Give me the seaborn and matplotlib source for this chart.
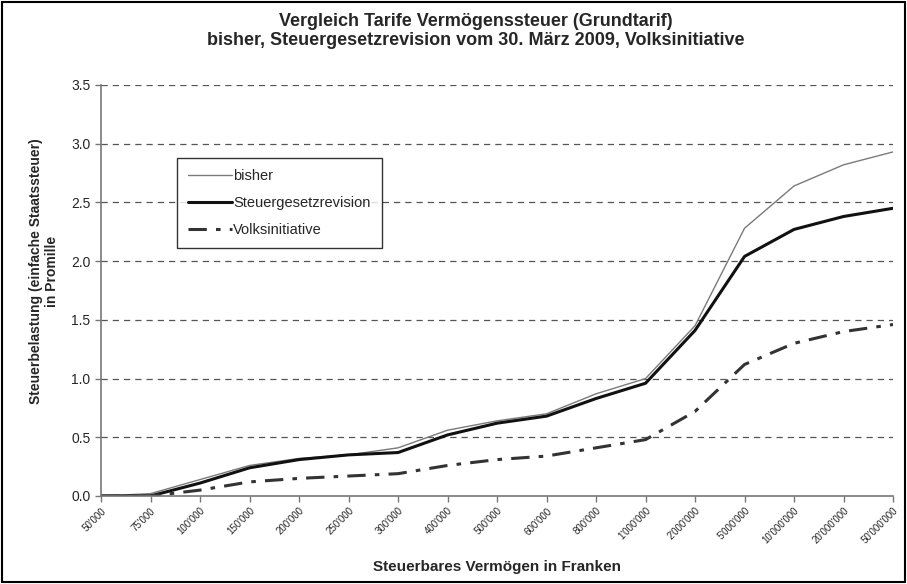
import numpy as np
import pandas as pd
import matplotlib
matplotlib.use("Agg")
import matplotlib.pyplot as plt
import seaborn as sns
from matplotlib.patches import Rectangle

# Daten (Promille)
vermoegen = ["50'000", "75'000", "100'000", "150'000", "200'000", "250'000",
             "300'000", "400'000", "500'000", "600'000", "800'000", "1'000'000",
             "2'000'000", "5'000'000", "10'000'000", "20'000'000", "50'000'000"]
bisher = [0.0, 0.02, 0.14, 0.26, 0.32, 0.35, 0.41, 0.56, 0.64, 0.70,
          0.87, 1.00, 1.45, 2.28, 2.64, 2.82, 2.93]
revision = [0.0, 0.0, 0.11, 0.24, 0.31, 0.35, 0.37, 0.52, 0.62, 0.68,
            0.83, 0.96, 1.41, 2.04, 2.27, 2.38, 2.45]
initiative = [0.0, 0.0, 0.05, 0.12, 0.15, 0.17, 0.19, 0.26, 0.31, 0.34,
              0.41, 0.48, 0.72, 1.12, 1.30, 1.40, 1.46]

sns.set_theme(style="white")
plt.rcParams['font.family'] = ['Liberation Sans', 'DejaVu Sans']

df = pd.DataFrame({"pos": np.arange(len(vermoegen)), "bisher": bisher,
                   "rev": revision, "ini": initiative})

fig = plt.figure(figsize=(9.07, 5.84), dpi=100)
ax = fig.add_axes([0.1114, 0.1507, 0.8732, 0.7038])

sns.lineplot(data=df, x="pos", y="bisher", ax=ax, color="#7a7a7a", lw=1.0,
             label="bisher")
sns.lineplot(data=df, x="pos", y="rev", ax=ax, color="#111111", lw=2.2,
             label="Steuergesetzrevision")
sns.lineplot(data=df, x="pos", y="ini", ax=ax, color="#333333", lw=2.2,
             label="Volksinitiative", dashes=False)
ax.lines[2].set_dashes((6, 3, 1.5, 3))

ax.set_xlim(0, len(vermoegen) - 1)
ax.set_ylim(0, 3.5)
ax.set_yticks(np.arange(0, 3.51, 0.5))
ax.set_yticklabels([f"{v:.1f}" for v in np.arange(0, 3.51, 0.5)], fontsize=10)
ax.set_xticks(df["pos"])
ax.set_xticklabels(vermoegen, rotation=45, ha="right", rotation_mode="anchor",
                   fontsize=7)
ax.tick_params(axis="x", length=4, width=1, color="#777777", direction="out",
               bottom=True, pad=3)
ax.tick_params(axis="y", length=4, width=1, color="#777777", direction="out",
               left=True)

for y in np.arange(0.5, 3.51, 0.5):
    ax.axhline(y, color="#555555", lw=0.9, ls=(0, (5, 4)), zorder=0)

for side in ["top", "right"]:
    ax.spines[side].set_visible(False)
for side in ["left", "bottom"]:
    ax.spines[side].set_color("#777777")
    ax.spines[side].set_linewidth(1.2)

ax.set_xlabel("Steuerbares Vermögen in Franken", fontsize=11, weight="bold",
              labelpad=10)
ax.set_ylabel("Steuerbelastung (einfache Staatssteuer)\nin Promille",
              fontsize=10, weight="bold", labelpad=9)
ax.yaxis.label.set_y(0.547)

fig.text(0.525, 0.977, "Vergleich Tarife Vermögenssteuer (Grundtarif)\n"
         "bisher, Steuergesetzrevision vom 30. März 2009, Volksinitiative",
         ha="center", va="top", fontsize=13, weight="bold", linespacing=1.15)

leg = ax.legend(loc="upper left", bbox_to_anchor=(0.087, 0.84), fontsize=10.5,
                frameon=True, fancybox=False, edgecolor="black",
                handlelength=3, handletextpad=0.1, labelspacing=0.9,
                borderpad=0.75)
leg.get_frame().set_linewidth(1.0)

fig.patches.append(Rectangle((0.002, 0.003), 0.996, 0.994, transform=fig.transFigure,
                             fill=False, edgecolor="black", lw=1.5))

fig.savefig("out.png", dpi=100)
